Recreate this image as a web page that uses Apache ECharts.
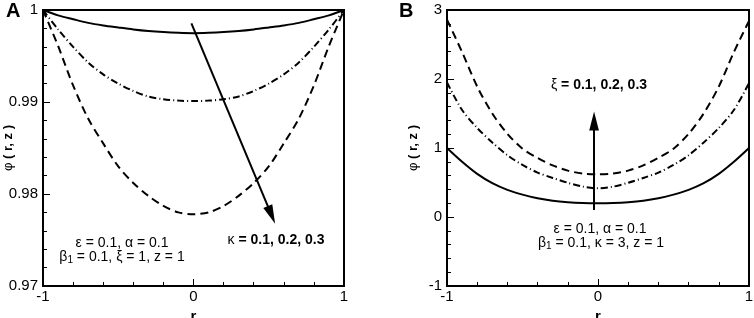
<!DOCTYPE html>
<html>
<head>
<meta charset="utf-8">
<script src="https://cdn.jsdelivr.net/npm/echarts@6/dist/echarts.min.js"></script>
<style>
html, body { margin: 0; padding: 0; background: #fff; }
#main { width: 754px; height: 318px; }
</style>
</head>
<body>
<div id="main"></div>
<script>
// r values (both panels)
var rVals = [-1, -0.9, -0.8, -0.7, -0.6, -0.5, -0.4, -0.3, -0.2, -0.1, 0, 0.1, 0.2, 0.3, 0.4, 0.5, 0.6, 0.7, 0.8, 0.9, 1];

// panel A : kappa = 0.1, 0.2, 0.3
var phiKappa01 = [1.0, 0.99942, 0.9990, 0.9986, 0.99832, 0.9981, 0.99789, 0.99772, 0.9976, 0.99752, 0.99748, 0.99752, 0.9976, 0.99772, 0.99789, 0.9981, 0.99832, 0.9986, 0.9990, 0.99942, 1.0];
var phiKappa02 = [1.0, 0.9979, 0.9960, 0.9943, 0.9930, 0.9920, 0.9912, 0.9906, 0.9903, 0.99015, 0.9901, 0.99015, 0.9903, 0.9906, 0.9912, 0.9920, 0.9930, 0.9943, 0.9960, 0.9979, 1.0];
var phiKappa03 = [1.0, 0.9961, 0.9918, 0.9882, 0.9855, 0.9830, 0.9812, 0.9798, 0.9787, 0.9780, 0.9778, 0.9780, 0.9787, 0.9798, 0.9812, 0.9830, 0.9855, 0.9882, 0.9918, 0.9961, 1.0];

// panel B : xi = 0.1, 0.2, 0.3
var phiXi01 = [1.0, 0.80, 0.625, 0.49, 0.393, 0.324, 0.271, 0.235, 0.214, 0.203, 0.200, 0.203, 0.214, 0.235, 0.271, 0.324, 0.393, 0.49, 0.625, 0.80, 1.0];
var phiXi02 = [1.95, 1.55, 1.29, 1.08, 0.895, 0.754, 0.644, 0.566, 0.496, 0.44, 0.415, 0.44, 0.496, 0.566, 0.644, 0.754, 0.895, 1.08, 1.29, 1.55, 1.94];
var phiXi03 = [2.86, 2.39, 1.89, 1.50, 1.205, 0.99, 0.857, 0.748, 0.672, 0.629, 0.618, 0.629, 0.672, 0.748, 0.857, 0.99, 1.205, 1.50, 1.89, 2.39, 2.84];

// arrows (data coords): start, head centre
var arrowA = [[-0.014, 0.99855], [0.518, 0.97773]];
var arrowB = [[-0.026, 0.101], [-0.026, 1.39]];

var FONT = "'Liberation Sans', Arial, sans-serif";
// narrow arrow head, the extra moves keep the box square
var HEAD = 'path://M0 0 M18 18 M9 0 L13.6 18 L4.4 18 Z';

function pairs(ys) {
	var out = [];
	for(var i = 0; i < rVals.length; i++) {
		out.push([rVals[i], ys[i]]);
	}
	return out;
}

function xAxisOf(idx) {
	return {
		gridIndex: idx,
		type: 'value',
		min: -1,
		max: 1,
		interval: 1,
		name: 'r',
		nameLocation: 'middle',
		nameGap: 19,
		nameTextStyle: { color: '#000', fontFamily: FONT, fontSize: 15, fontWeight: 'bold' },
		axisLine: { show: true, onZero: false, lineStyle: { color: '#000', width: 2 } },
		axisTick: { show: true, inside: true, length: 7, lineStyle: { color: '#000', width: 1 } },
		minorTick: { show: true, splitNumber: 5, length: 4, lineStyle: { color: '#000', width: 1 } },
		axisLabel: { color: '#000', fontFamily: FONT, fontSize: 15, margin: 3 },
		splitLine: { show: false }
	};
}

function yAxisOf(idx, min, max, interval) {
	return {
		gridIndex: idx,
		type: 'value',
		min: min,
		max: max,
		interval: interval,
		axisLine: { show: true, onZero: false, lineStyle: { color: '#000', width: 2 } },
		axisTick: { show: true, inside: true, length: 7, lineStyle: { color: '#000', width: 1 } },
		minorTick: { show: true, splitNumber: 5, length: 4, lineStyle: { color: '#000', width: 1 } },
		axisLabel: { color: '#000', fontFamily: FONT, fontSize: 15, margin: 5 },
		splitLine: { show: false }
	};
}

function lineSeries(idx, ys, dash, withArrow) {
	var s = {
		type: 'line',
		xAxisIndex: idx,
		yAxisIndex: idx,
		data: pairs(ys),
		smooth: 0.3,
		symbol: 'none',
		silent: true,
		lineStyle: { color: '#000', width: 2, type: dash }
	};
	if(withArrow) {
		s.markLine = {
			silent: true,
			symbol: ['none', HEAD],
			symbolSize: 19,
			label: { show: false },
			lineStyle: { color: '#000', width: 2, type: 'solid' },
			itemStyle: { color: '#000' },
			data: [[{ coord: withArrow[0] }, { coord: withArrow[1] }]]
		};
	}
	return s;
}

var subRich = {
	n: { fontFamily: FONT, fontSize: 14, fill: '#000' },
	s: { fontFamily: FONT, fontSize: 10, fill: '#000', padding: [7, 0, 0, 0] },
	b: { fontFamily: FONT, fontSize: 14, fontWeight: 'bold', fill: '#000' },
	yn: { fontFamily: FONT, fontSize: 13, fontWeight: 'bold', fill: '#000' },
	yp: { fontFamily: FONT, fontSize: 13, fill: '#000' }
};

// centred text note
function note(cx, cy, text, rot) {
	return {
		type: 'text',
		x: cx,
		y: cy,
		rotation: rot || 0,
		style: { text: text, rich: subRich, align: 'center', verticalAlign: 'middle' }
	};
}

var myChart = echarts.init(document.getElementById('main'));
var option = {
	backgroundColor: '#fff',
	animation: false,
	grid: [
		{ left: 43, top: 10, width: 301, height: 276, outerBoundsMode: 'none', show: true, borderColor: '#000', borderWidth: 2, backgroundColor: 'transparent' },
		{ left: 447, top: 10, width: 302, height: 276, outerBoundsMode: 'none', show: true, borderColor: '#000', borderWidth: 2, backgroundColor: 'transparent' }
	],
	xAxis: [xAxisOf(0), xAxisOf(1)],
	yAxis: [yAxisOf(0, 0.97, 1, 0.01), yAxisOf(1, -1, 3, 1)],
	series: [
		lineSeries(0, phiKappa01, 'solid', arrowA),
		lineSeries(0, phiKappa02, [7, 3, 1, 3], null),
		lineSeries(0, phiKappa03, [8, 5], null),
		lineSeries(1, phiXi01, 'solid', arrowB),
		lineSeries(1, phiXi02, [7, 3, 1, 3], null),
		lineSeries(1, phiXi03, [8, 5], null)
	],
	graphic: [
		{ type: 'text', x: 6, y: 1, style: { text: 'A', font: 'bold 20px ' + FONT, fill: '#000' } },
		{ type: 'text', x: 399, y: 1, style: { text: 'B', font: 'bold 20px ' + FONT, fill: '#000' } },
		note(8, 148, '{yp|φ}{yn| ( r, z )}', Math.PI / 2),
		note(413, 148, '{yp|φ}{yn| ( r, z )}', Math.PI / 2),
		note(122, 243, '{n|ε = 0.1, α = 0.1}'),
		note(122, 257, '{n|β}{s|1}{n| = 0.1, ξ = 1, z = 1}'),
		note(276, 240, '{n|κ}{b| = 0.1, 0.2, 0.3}'),
		note(599, 85, '{n|ξ}{b| = 0.1, 0.2, 0.3}'),
		note(600, 229, '{n|ε = 0.1, α = 0.1}'),
		note(601, 243, '{n|β}{s|1}{n| = 0.1, κ = 3, z = 1}')
	]
};
myChart.setOption(option);
</script>
</body>
</html>
